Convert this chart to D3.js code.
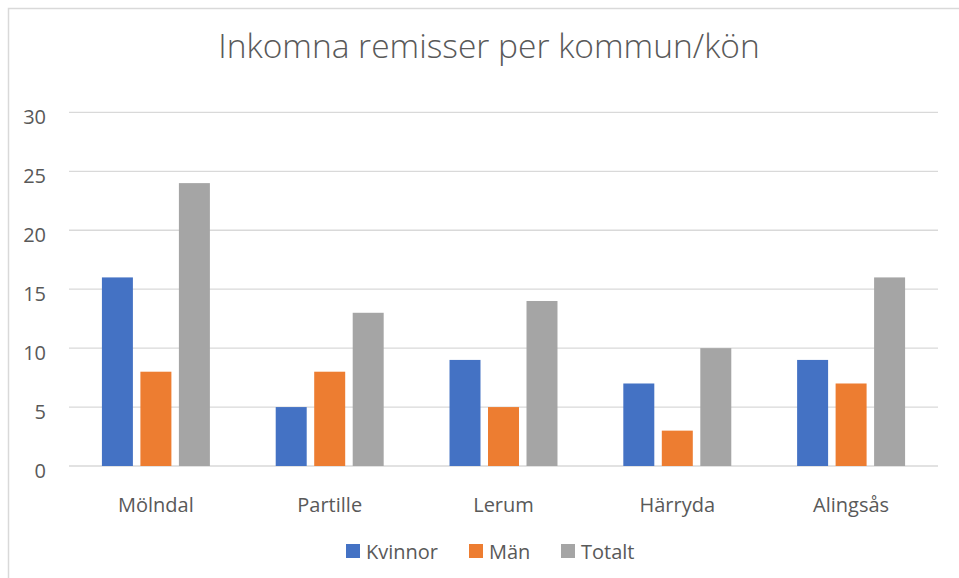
<!DOCTYPE html>
<html>
<head>
<meta charset="utf-8">
<script src="https://cdn.jsdelivr.net/npm/d3@7"></script>
<style>
  body { margin: 0; background: #fff; }
  svg text { font-family: "Open Sans", "Noto Sans", sans-serif; fill: #595959; }
</style>
</head>
<body>
<div id="chart"></div>
<script>
// data
const categories = ['Mölndal', 'Partille', 'Lerum', 'Härryda', 'Alingsås'];
const seriesNames = ['Kvinnor', 'Män', 'Totalt'];
const kvinnor = [16, 5, 9, 7, 9];
const man = [8, 8, 5, 3, 7];
const totalt = [24, 13, 14, 10, 16];
const yTicks = [0, 5, 10, 15, 20, 25, 30];
const colors = ['#4472C4', '#ED7D31', '#A5A5A5'];

const width = 959, height = 578;
const margin = { left: 69, right: 21, top: 112, bottom: 112 };

const svg = d3.select('#chart').append('svg')
    .attr('width', width)
    .attr('height', height);

// chart frame
svg.append('rect')
    .attr('x', 8.5).attr('y', 8.5)
    .attr('width', width).attr('height', height)
    .attr('fill', 'none')
    .attr('stroke', '#D9D9D9')
    .attr('stroke-width', 1.5);

svg.append('text')
    .attr('x', 489).attr('y', 57.5)
    .attr('text-anchor', 'middle')
    .style('font-size', '33.5px')
    .style('font-weight', 300)
    .text('Inkomna remisser per kommun/kön');

const x0 = d3.scaleBand()
    .domain(categories)
    .range([margin.left, width - margin.right])
    .paddingInner(0)
    .paddingOuter(0);

const x1 = d3.scaleBand()
    .domain(seriesNames)
    .range([0, x0.bandwidth()])
    .paddingInner(0.195)
    .paddingOuter(0.855);

const y = d3.scaleLinear()
    .domain([0, 30])
    .range([466, 112.4]);

// gridlines
svg.append('g').selectAll('line')
    .data(yTicks)
    .enter()
    .append('line')
    .attr('x1', margin.left)
    .attr('x2', width - margin.right)
    .attr('y1', d => y(d))
    .attr('y2', d => y(d))
    .attr('stroke', '#D9D9D9')
    .attr('stroke-width', 1.3);

// y labels
svg.append('g').selectAll('text')
    .data(yTicks)
    .enter()
    .append('text')
    .attr('x', 46)
    .attr('y', d => y(d) + 12)
    .attr('text-anchor', 'end')
    .style('font-size', '20px')
    .text(d => d);

const rows = categories.map((c, i) => ({
    cat: c,
    vals: [kvinnor[i], man[i], totalt[i]]
}));

const groups = svg.append('g').selectAll('g')
    .data(rows)
    .enter()
    .append('g')
    .attr('transform', d => `translate(${x0(d.cat)},0)`);

groups.selectAll('rect')
    .data(d => d.vals.map((v, j) => ({ key: seriesNames[j], v: v, c: colors[j] })))
    .enter()
    .append('rect')
    .attr('x', d => x1(d.key))
    .attr('y', d => y(d.v))
    .attr('width', x1.bandwidth())
    .attr('height', d => y(0) - y(d.v))
    .attr('fill', d => d.c);

// category labels
svg.append('g').selectAll('text')
    .data(categories)
    .enter()
    .append('text')
    .attr('x', d => x0(d) + x0.bandwidth() / 2)
    .attr('y', 512)
    .attr('text-anchor', 'middle')
    .style('font-size', '20px')
    .text(d => d);

// legend
const legendX = [346, 469, 561];
const legend = svg.append('g').selectAll('g')
    .data(seriesNames)
    .enter()
    .append('g')
    .attr('transform', (d, i) => `translate(${legendX[i]},544)`);

legend.append('rect')
    .attr('width', 14).attr('height', 14)
    .attr('fill', (d, i) => colors[i]);

legend.append('text')
    .attr('x', 20).attr('y', 14.5)
    .style('font-size', '20px')
    .text(d => d);
</script>
</body>
</html>
